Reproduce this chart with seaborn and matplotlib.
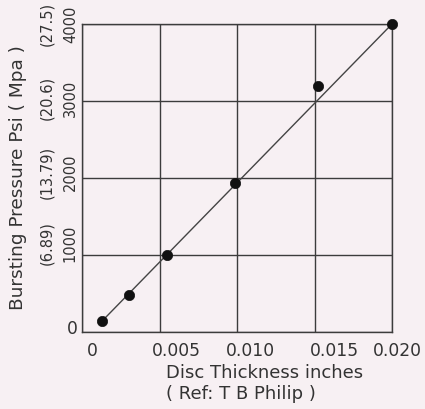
import matplotlib
matplotlib.use("Agg")
import matplotlib.pyplot as plt
import matplotlib.transforms as mtransforms
from matplotlib import font_manager as fm
import seaborn as sns
import pandas as pd

# Data
thickness = [0.0013, 0.0030, 0.0055, 0.0099, 0.0152, 0.0200]
pressure = [143, 480, 1000, 1935, 3190, 4000]
fit_x = [0.0013, 0.0200]
fit_y = [143, 4000]

x_ticks = [0.0, 0.005, 0.010, 0.015, 0.020]
x_tick_labels = ["0", "0.005", "0.010", "0.015", "0.020"]
y_ticks = [0, 1000, 2000, 3000, 4000]
y_tick_labels = ["0", "(6.89)\n1000", "(13.79)\n2000", "(20.6)\n3000", "(27.5)\n4000"]

bg = "#f7f0f3"
ink = "#333333"


def has_font(name):
    try:
        fm.findfont(fm.FontProperties(family=name), fallback_to_default=False)
        return True
    except Exception:
        return False


if has_font("Liberation Sans Narrow"):
    ytick_family, ytick_size = "Liberation Sans Narrow", 12.5
else:
    ytick_family, ytick_size = "DejaVu Sans", 10.5

sns.set_theme(style="white")
plt.rcParams["font.family"] = ["DejaVu Sans"]

fig = plt.figure(figsize=(4.25, 4.09), dpi=100, facecolor=bg)
ax = fig.add_axes([82 / 425, 1 - 332 / 409, 310 / 425, 308 / 409])
ax.set_facecolor(bg)

pts = pd.DataFrame({"x": thickness, "y": pressure})
fit = pd.DataFrame({"x": fit_x, "y": fit_y})
sns.lineplot(data=fit, x="x", y="y", ax=ax, color="#444444", linewidth=1.0)
sns.scatterplot(data=pts, x="x", y="y", ax=ax, color="#111111", s=55,
                edgecolor="#111111", linewidth=0.5, zorder=5, clip_on=False)

ax.set_xlim(0, 0.020)
ax.set_ylim(0, 4000)
ax.set_xticks(x_ticks)
ax.set_xticklabels(x_tick_labels)
ax.set_yticks(y_ticks)
ax.set_yticklabels(y_tick_labels)

ax.grid(True, color="#3c3c3c", linewidth=1.0)
for s in ax.spines.values():
    s.set_color("#3c3c3c")
    s.set_linewidth(1.0)

ax.tick_params(axis="both", length=0, labelcolor=ink)
ax.tick_params(axis="x", pad=7, labelsize=12.3)
ax.tick_params(axis="y", pad=3)

x_offsets = [10, 17, 13, 20, 5]
for lab, dx in zip(ax.get_xticklabels(), x_offsets):
    lab.set_transform(lab.get_transform() +
                      mtransforms.ScaledTranslation(dx / 100, 0, fig.dpi_scale_trans))

y_offsets = [5, 12, 6, 3, 0]
for i, lab in enumerate(ax.get_yticklabels()):
    lab.set_transform(lab.get_transform() +
                      mtransforms.ScaledTranslation(0, y_offsets[i] / 100, fig.dpi_scale_trans))
    if i == 0:
        lab.set_fontsize(12.3)
    else:
        lab.set_family(ytick_family)
        lab.set_fontsize(ytick_size)
        lab.set_rotation(90)
        lab.set_ha("right")
        lab.set_va("center")
        lab.set_multialignment("center")
        lab.set_linespacing(1.75)

ax.set_xlabel("Disc Thickness inches\n( Ref: T B Philip )", fontsize=13,
              color=ink, multialignment="left", linespacing=1.2)
ax.xaxis.set_label_coords(0.59, -0.105)
ax.xaxis.label.set_va("top")
ax.set_ylabel("Bursting Pressure Psi ( Mpa )", fontsize=13.3, color=ink)
ax.yaxis.set_label_coords(-0.178, 0.5)

fig.savefig("out.png", dpi=100, facecolor=bg)
